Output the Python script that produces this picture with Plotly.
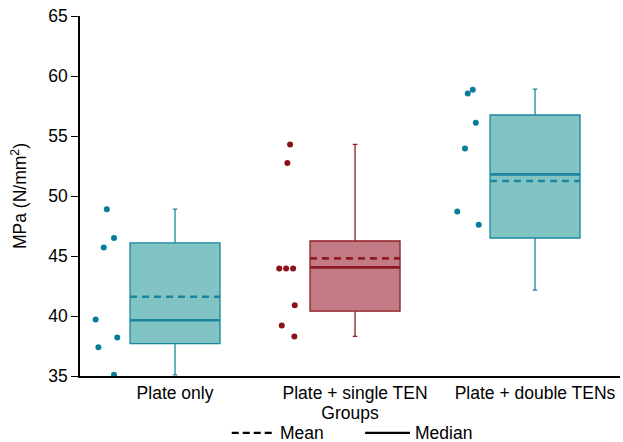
import plotly.graph_objects as go

# ---- data ----
groups = ["Plate only", "Plate + single TEN", "Plate + double TENs"]
q1 = [37.7, 40.4, 46.5]
median = [39.65, 44.05, 51.8]
q3 = [46.1, 46.25, 56.75]
mean = [41.6, 44.8, 51.25]
lower = [35.1, 38.3, 42.15]
upper = [48.9, 54.3, 58.9]

pts_plate_only = [48.9, 46.5, 45.7, 39.7, 38.2, 37.4, 35.1]
pts_single_ten = [54.3, 52.75, 43.95, 43.95, 43.95, 40.9, 39.2, 38.3]
pts_double_tens = [58.85, 58.55, 56.1, 53.95, 48.7, 47.6]
points = [pts_plate_only, pts_single_ten, pts_double_tens]

# horizontal jitter of the raw points (in category units, left of the box)
jitter = [
    [-0.379, -0.339, -0.396, -0.441, -0.321, -0.426, -0.339],
    [-0.361, -0.376, -0.421, -0.383, -0.344, -0.335, -0.407, -0.337],
    [-0.346, -0.374, -0.329, -0.389, -0.432, -0.313],
]

fills = ["#82C4C3", "#C27B85", "#82C4C3"]
lines = ["#1A86A0", "#8E1B24", "#1A86A0"]
pcols = ["#077D99", "#8B1219", "#077D99"]

FONT = "Liberation Sans, Arial, sans-serif"
FS = 17.5
BOXW = 0.5

fig = go.Figure()
for i in range(3):
    fig.add_trace(go.Box(
        x=[i], q1=[q1[i]], median=[median[i]], q3=[q3[i]],
        lowerfence=[lower[i]], upperfence=[upper[i]],
        width=BOXW, whiskerwidth=0.05,
        fillcolor=fills[i], line=dict(color=lines[i], width=1.3),
        boxpoints=False, showlegend=False, hoverinfo="skip",
    ))
    # median line (thick solid)
    fig.add_trace(go.Scatter(
        x=[i - BOXW / 2, i + BOXW / 2], y=[median[i], median[i]],
        mode="lines", line=dict(color=lines[i], width=2.6),
        showlegend=False, hoverinfo="skip",
    ))
    # mean line (thick dashed)
    fig.add_trace(go.Scatter(
        x=[i - BOXW / 2, i + BOXW / 2], y=[mean[i], mean[i]],
        mode="lines", line=dict(color=lines[i], width=2.6, dash="7px,5px"),
        showlegend=False, hoverinfo="skip",
    ))
    # raw points
    fig.add_trace(go.Scatter(
        x=[i + j for j in jitter[i]], y=points[i],
        mode="markers", marker=dict(color=pcols[i], size=6),
        showlegend=False, cliponaxis=False, hoverinfo="skip",
    ))

# ---- legend (drawn below the plot area) ----
LEG_Y = -0.158
legend_items = [
    # (label, dash, line start, line end, text start) in paper x
    ("Mean", "7px,4px", 0.281, 0.361, 0.368),
    ("Median", "solid", 0.528, 0.611, 0.619),
]
for label, dash, x0, x1, xt in legend_items:
    fig.add_shape(type="line", xref="paper", yref="paper",
                  x0=x0, x1=x1, y0=LEG_Y, y1=LEG_Y,
                  line=dict(color="black", width=2.2, dash=dash))
    fig.add_annotation(xref="paper", yref="paper", x=xt, y=LEG_Y,
                       text=label, showarrow=False, xanchor="left",
                       yanchor="middle", height=18, borderpad=0,
                       font=dict(size=FS, color="black"))

fig.update_layout(
    width=623, height=442,
    margin=dict(l=80, r=3, t=16, b=66, autoexpand=False),
    paper_bgcolor="white", plot_bgcolor="white",
    font=dict(family=FONT, size=FS, color="black"),
    showlegend=False,
    xaxis=dict(
        range=[-0.528, 2.472], tickmode="array", tickvals=[0, 1, 2],
        ticktext=groups, showgrid=False, zeroline=False, automargin=False,
        showline=True, linecolor="black", linewidth=1.5, ticks="",
        title=dict(text="Groups", standoff=5, font=dict(size=FS)),
        tickfont=dict(size=FS),
    ),
    yaxis=dict(
        range=[35, 65], tickvals=[35, 40, 45, 50, 55, 60, 65],
        showgrid=False, zeroline=False, showline=True, automargin=False,
        linecolor="black", linewidth=1.5, ticks="outside", ticklen=7,
        tickcolor="black", tickfont=dict(size=FS),
        title=dict(text="MPa (N/mm<sup>2</sup>)", standoff=17,
                   font=dict(size=FS)),
    ),
)

fig.write_html(
    "out.html",
    config={"displayModeBar": False},
    post_script="document.body.style.margin='0';document.body.style.padding='0';",
)
